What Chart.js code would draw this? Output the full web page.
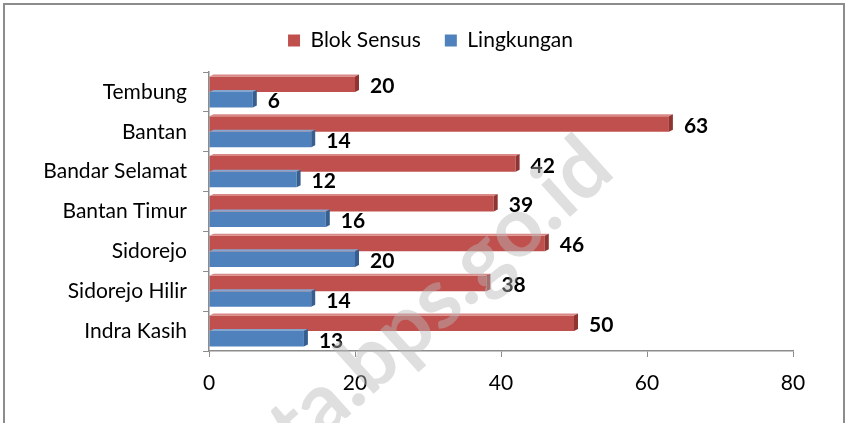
<!DOCTYPE html>
<html>
<head>
<meta charset="utf-8">
<script src="https://cdn.jsdelivr.net/npm/chart.js@4"></script>
<style>
  html, body { margin: 0; padding: 0; background: #fff; }
  .frame {
    position: absolute; left: 3px; top: 3px; width: 838px; height: 440px;
    border: 2px solid #8c8c8c; border-bottom: none; box-sizing: content-box;
  }
  .wrap { position: absolute; left: 0; top: 0; width: 847px; height: 423px; }
</style>
</head>
<body>
<div class="frame"></div>
<div class="wrap"><canvas id="barChart" width="847" height="423"></canvas></div>
<script>
// Chart data
const kelurahan = ['Tembung', 'Bantan', 'Bandar Selamat', 'Bantan Timur', 'Sidorejo', 'Sidorejo Hilir', 'Indra Kasih'];
const blokSensus = [20, 63, 42, 39, 46, 38, 50];
const lingkungan = [6, 14, 12, 16, 20, 14, 13];
const xTicks = [0, 20, 40, 60, 80];

const FONT = 'Lato, "Open Sans", sans-serif';

// extra room between legend and plot
const legendGap = {
  id: 'legendGap',
  beforeInit(chart) {
    const fit = chart.legend.fit;
    chart.legend.fit = function () {
      fit.bind(chart.legend)();
      this.height += 11;
    };
  }
};

// small 3D look: dark end cap and light top edge on each bar
const bar3d = {
  id: 'bar3d',
  afterDatasetsDraw(chart) {
    const ctx = chart.ctx;
    const caps = ['#8e3533', '#365e8f'];
    const tops = ['#d98886', '#86a6d0'];
    chart.data.datasets.forEach((ds, i) => {
      chart.getDatasetMeta(i).data.forEach((bar) => {
        const h = bar.height, t = bar.y - h / 2, b = bar.y + h / 2;
        const d = 4;
        ctx.save();
        ctx.fillStyle = tops[i];
        ctx.beginPath();
        ctx.moveTo(bar.base, t);
        ctx.lineTo(bar.base + d, t - 2);
        ctx.lineTo(bar.x + d, t - 2);
        ctx.lineTo(bar.x, t);
        ctx.closePath();
        ctx.fill();
        ctx.fillStyle = caps[i];
        ctx.beginPath();
        ctx.moveTo(bar.x, t);
        ctx.lineTo(bar.x + d, t - 2);
        ctx.lineTo(bar.x + d, b - 2);
        ctx.lineTo(bar.x, b);
        ctx.closePath();
        ctx.fill();
        ctx.restore();
      });
    });
  }
};

// value labels at the end of each bar
const valueLabels = {
  id: 'valueLabels',
  afterDatasetsDraw(chart) {
    const ctx = chart.ctx;
    ctx.save();
    ctx.font = 'bold 21px ' + FONT;
    ctx.fillStyle = '#000';
    ctx.textAlign = 'left';
    ctx.textBaseline = 'middle';
    chart.data.datasets.forEach((ds, i) => {
      chart.getDatasetMeta(i).data.forEach((bar, j) => {
        ctx.fillText(ds.data[j], bar.x + 15, bar.y + 2);
      });
    });
    ctx.restore();
  }
};

// faint watermark text over the plot
const watermark = {
  id: 'watermark',
  afterDraw(chart) {
    const ctx = chart.ctx;
    ctx.save();
    ctx.translate(300, 460);
    ctx.rotate(-42 * Math.PI / 180);
    ctx.font = 'bold 84px ' + FONT;
    ctx.fillStyle = 'rgba(185,185,185,0.45)';
    ctx.textBaseline = 'alphabetic';
    ctx.fillText('ta.bps.go.id', 0, 0);
    ctx.restore();
  }
};

const ctx = document.getElementById('barChart').getContext('2d');
new Chart(ctx, {
  type: 'bar',
  data: {
    labels: kelurahan,
    datasets: [
      {
        label: 'Blok Sensus',
        data: blokSensus,
        backgroundColor: '#c0504d',
        borderWidth: 0,
        categoryPercentage: 0.78,
        barPercentage: 1.0
      },
      {
        label: 'Lingkungan',
        data: lingkungan,
        backgroundColor: '#4f81bd',
        borderWidth: 0,
        categoryPercentage: 0.78,
        barPercentage: 1.0
      }
    ]
  },
  options: {
    indexAxis: 'y',
    responsive: false,
    animation: false,
    layout: { padding: { left: 14, right: 0, top: 6, bottom: 0 } },
    plugins: {
      legend: {
        position: 'top',
        labels: {
          font: { family: FONT, size: 21 },
          color: '#000',
          boxWidth: 12,
          boxHeight: 12,
          padding: 24
        }
      },
      tooltip: { enabled: false }
    },
    scales: {
      x: {
        min: 0,
        max: 80,
        afterBuildTicks: (s) => { s.ticks = xTicks.map((v) => ({ value: v })); },
        grid: { drawOnChartArea: false, color: '#8c8c8c', tickLength: 6 },
        border: { color: '#8c8c8c', width: 1.5 },
        ticks: { font: { family: FONT, size: 21 }, color: '#000', padding: 14 },
        afterFit: (s) => { s.height = 72; }
      },
      y: {
        grid: { drawOnChartArea: false, color: '#8c8c8c', tickLength: 6, offset: true },
        border: { color: '#8c8c8c', width: 1.5 },
        ticks: { font: { family: FONT, size: 21 }, color: '#000', padding: 16 },
        afterFit: (s) => { s.width = 195; }
      },
      // empty right-hand spacer so the plot ends at the "80" tick
      yRight: {
        type: 'category',
        position: 'right',
        grid: { display: false },
        border: { display: false },
        ticks: { display: false },
        afterFit: (s) => { s.width = 54; }
      }
    }
  },
  plugins: [legendGap, bar3d, valueLabels, watermark]
});
</script>
</body>
</html>
